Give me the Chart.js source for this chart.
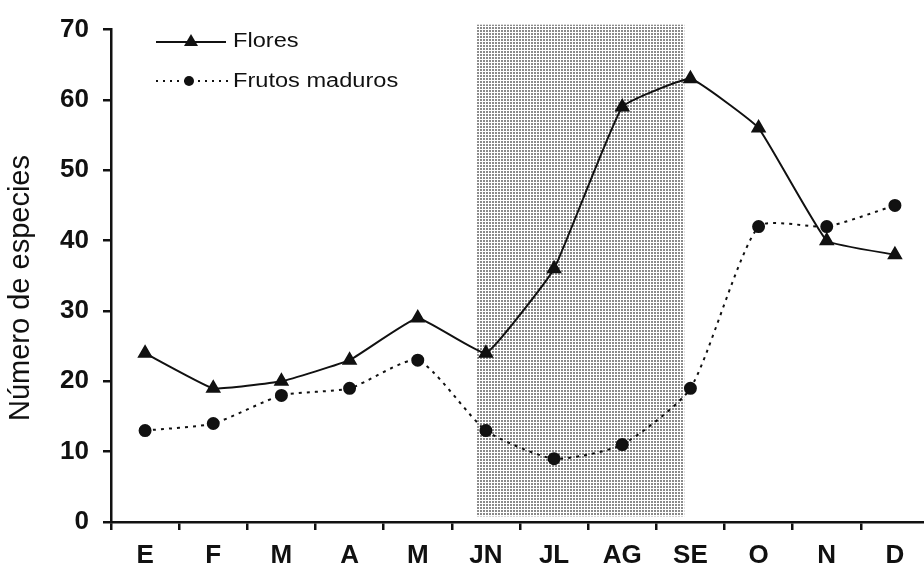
<!DOCTYPE html>
<html>
<head>
<meta charset="utf-8">
<script src="https://cdn.jsdelivr.net/npm/chart.js@4.4.0/dist/chart.umd.min.js"></script>
<style>
  html, body { margin: 0; padding: 0; background: #fff; overflow: hidden; }
  .wrap { width: 940px; height: 573px; }
</style>
</head>
<body>
<div class="wrap"><canvas id="myChart" width="940" height="573"></canvas></div>
<script>
const months = ["E", "F", "M", "A", "M", "JN", "JL", "AG", "SE", "O", "N", "D"];
const flores = [24, 19, 20, 23, 29, 24, 36, 59, 63, 56, 40, 38];
const frutosMaduros = [13, 14, 18, 19, 23, 13, 9, 11, 19, 42, 42, 45];
const yTicks = [0, 10, 20, 30, 40, 50, 60, 70];
// rainy season band, in category index units and y values
const bandX = [4.87, 7.91];
const bandY = [0.8, 70.7];

const FONT = "'Liberation Sans', Arial, sans-serif";

// dotted screen used for the shaded band
const makePattern = () => {
  const c = document.createElement("canvas");
  c.width = 3;
  c.height = 3;
  const p = c.getContext("2d");
  p.fillStyle = "#ffffff";
  p.fillRect(0, 0, 3, 3);
  p.fillStyle = "#8a8a8a";
  p.fillRect(0, 0, 2, 2);
  return p.createPattern(c, "repeat");
};

const bandPlugin = {
  id: "band",
  beforeDatasetsDraw(chart) {
    const { ctx, scales } = chart;
    const x = scales.x, y = scales.y;
    const step = x.getPixelForValue(1) - x.getPixelForValue(0);
    const x0 = x.getPixelForValue(0) + bandX[0] * step;
    const x1 = x.getPixelForValue(0) + bandX[1] * step;
    const y0 = y.getPixelForValue(bandY[1]);
    const y1 = y.getPixelForValue(bandY[0]);
    ctx.save();
    ctx.fillStyle = makePattern();
    ctx.fillRect(x0, y0, x1 - x0, y1 - y0);
    ctx.restore();
  },
};

// y axis title, drawn by hand so it can sit a bit below the middle
const yTitlePlugin = {
  id: "yTitle",
  afterDraw(chart) {
    const ctx = chart.ctx;
    ctx.save();
    ctx.translate(21, 288);
    ctx.rotate(-Math.PI / 2);
    ctx.font = "29px " + FONT;
    ctx.fillStyle = "#111";
    ctx.textAlign = "center";
    ctx.textBaseline = "middle";
    ctx.fillText("Número de especies", 0, 0);
    ctx.restore();
  },
};

const legendPlugin = {
  id: "customLegend",
  afterDraw(chart) {
    const ctx = chart.ctx;
    ctx.save();
    ctx.strokeStyle = "#111";
    ctx.fillStyle = "#111";

    // Flores: solid line with triangle
    ctx.lineWidth = 2;
    ctx.beginPath();
    ctx.moveTo(156, 42);
    ctx.lineTo(226, 42);
    ctx.stroke();
    ctx.beginPath();
    ctx.moveTo(191, 34);
    ctx.lineTo(198, 46);
    ctx.lineTo(184, 46);
    ctx.closePath();
    ctx.fill();

    // Frutos maduros: dotted line with circle
    ctx.setLineDash([2, 5]);
    ctx.beginPath();
    ctx.moveTo(156, 81);
    ctx.lineTo(228, 81);
    ctx.stroke();
    ctx.setLineDash([]);
    ctx.beginPath();
    ctx.arc(189, 81, 5, 0, Math.PI * 2);
    ctx.fill();

    ctx.font = "20px " + FONT;
    ctx.textBaseline = "middle";
    ctx.translate(233, 0);
    ctx.scale(1.18, 1);
    ctx.fillText("Flores", 0, 41);
    ctx.fillText("Frutos maduros", 0, 81);
    ctx.restore();
  },
};

const ctx = document.getElementById("myChart").getContext("2d");
const myChart = new Chart(ctx, {
  type: "line",
  data: {
    labels: months,
    datasets: [
      {
        label: "Flores",
        data: flores,
        borderColor: "#111",
        backgroundColor: "#111",
        borderWidth: 2,
        pointStyle: "triangle",
        pointRadius: 7,
        tension: 0.1,
      },
      {
        label: "Frutos maduros",
        data: frutosMaduros,
        borderColor: "#111",
        backgroundColor: "#111",
        borderWidth: 2,
        borderDash: [3, 5],
        pointStyle: "circle",
        pointRadius: 5.5,
        tension: 0.2,
      },
    ],
  },
  options: {
    responsive: false,
    animation: false,
    layout: { padding: { top: 20, right: 11, left: 0, bottom: 0 } },
    plugins: {
      legend: { display: false },
      tooltip: { enabled: false },
    },
    scales: {
      x: {
        offset: true,
        grid: {
          offset: true,
          drawOnChartArea: false,
          drawTicks: true,
          tickLength: 8,
          color: "#111",
          lineWidth: 2.5,
        },
        border: { color: "#111", width: 2.5 },
        ticks: {
          color: "#111",
          padding: 10,
          font: { family: FONT, size: 26, weight: "bold" },
        },
        afterFit(scale) {
          scale.height = 51;
        },
      },
      y: {
        min: 0,
        max: 70,
        afterBuildTicks(scale) {
          scale.ticks = yTicks.map((v) => ({ value: v }));
        },
        grid: {
          drawOnChartArea: false,
          drawTicks: true,
          tickLength: 8,
          color: "#111",
          lineWidth: 2.5,
        },
        border: { color: "#111", width: 2.5 },
        ticks: {
          color: "#111",
          padding: 14,
          font: { family: FONT, size: 26, weight: "bold" },
        },
        afterFit(scale) {
          scale.width = 111;
        },
      },
    },
  },
  plugins: [bandPlugin, yTitlePlugin, legendPlugin],
});
</script>
</body>
</html>
